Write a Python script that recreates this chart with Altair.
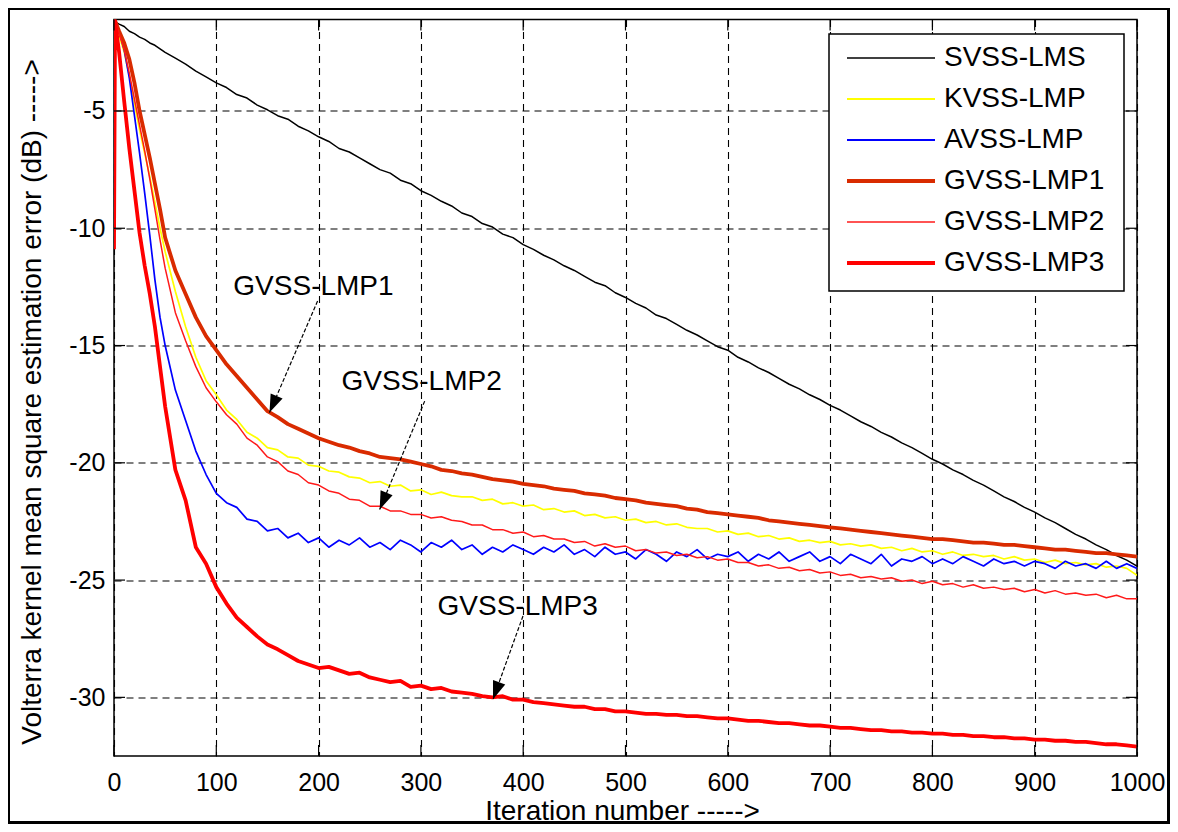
import math
import altair as alt
import pandas as pd

# ---------------- data ----------------
iterations = [0, 1, 5, 10, 15, 20, 25, 30, 35, 40, 45] + list(range(50, 1001, 10))

series_names = ["SVSS-LMS", "KVSS-LMP", "AVSS-LMP", "GVSS-LMP1", "GVSS-LMP2", "GVSS-LMP3"]
series_colors = ["#000000", "#FFFF00", "#0000FF", "#D92B00", "#FF1A1A", "#FF0000"]
series_widths = [1.5, 1.7, 1.7, 3.8, 1.5, 3.8]
legend_widths = [1.6, 2.0, 2.0, 4.0, 1.6, 4.0]

svss_lms = [-1.15, -1.2, -1.3, -1.4, -1.6, -1.7, -1.85, -1.95, -2.1, -2.2, -2.35,
            -2.5, -2.75, -3.0, -3.3, -3.55, -3.8, -4.0, -4.3, -4.45, -4.75,
            -4.95, -5.2, -5.35, -5.65, -5.85, -6.1, -6.3, -6.6, -6.75, -7.0,
            -7.25, -7.5, -7.65, -7.95, -8.1, -8.4, -8.6, -8.85, -9.05, -9.35,
            -9.5, -9.8, -9.95, -10.25, -10.4, -10.7, -10.9, -11.15, -11.35, -11.6,
            -11.8, -12.05, -12.3, -12.45, -12.75, -12.95, -13.2, -13.4, -13.7, -13.85,
            -14.1, -14.35, -14.55, -14.8, -15.05, -15.2, -15.5, -15.7, -15.95, -16.15,
            -16.4, -16.65, -16.85, -17.1, -17.3, -17.55, -17.75, -18.0, -18.25, -18.45,
            -18.7, -18.9, -19.15, -19.35, -19.6, -19.85, -20.05, -20.3, -20.5, -20.75,
            -20.95, -21.2, -21.45, -21.65, -21.9, -22.1, -22.35, -22.55, -22.8, -23.05,
            -23.25, -23.5, -23.7, -23.95, -24.15, -24.4]

kvss_lmp = [-1.1, -1.15, -1.8, -2.5, -3.5, -4.7, -5.8, -6.8, -7.8, -8.9, -10.0,
            -11.0, -12.7, -14.2, -15.5, -16.5, -17.1, -17.75, -18.15, -18.7, -18.95,
            -19.35, -19.45, -19.75, -19.8, -20.1, -20.15, -20.35, -20.4, -20.6, -20.65,
            -20.85, -20.8, -21.0, -20.95, -21.2, -21.15, -21.35, -21.25, -21.4, -21.45,
            -21.45, -21.6, -21.55, -21.75, -21.7, -21.85, -21.8, -22.0, -21.95, -22.1,
            -22.05, -22.25, -22.2, -22.35, -22.3, -22.45, -22.4, -22.55, -22.5, -22.65,
            -22.6, -22.75, -22.8, -22.8, -22.95, -22.9, -23.05, -23.0, -23.15, -23.1,
            -23.25, -23.2, -23.35, -23.3, -23.4, -23.35, -23.5, -23.45, -23.55, -23.5,
            -23.65, -23.6, -23.75, -23.65, -23.8, -23.75, -23.9, -23.8, -23.95, -23.9,
            -24.0, -23.95, -24.1, -24.0, -24.15, -24.1, -24.25, -24.15, -24.3, -24.25,
            -24.35, -24.3, -24.45, -24.4, -24.5, -24.8]

avss_lmp = [-1.1, -1.15, -1.6, -2.4, -3.6, -5.2, -6.8, -8.5, -10.3, -12.2, -13.8,
            -15.0, -16.9, -18.2, -19.5, -20.5, -21.3, -21.7, -21.9, -22.4, -22.5,
            -22.9, -22.8, -23.2, -23.0, -23.4, -23.2, -23.6, -23.3, -23.5, -23.2,
            -23.6, -23.4, -23.7, -23.3, -23.5, -23.8, -23.4, -23.6, -23.3, -23.7,
            -23.5, -23.9, -23.6, -23.8, -23.5, -23.7, -23.9, -23.6, -23.8, -23.5,
            -23.9, -23.7, -24.0, -23.6, -23.9, -23.8, -24.1, -23.7, -23.9, -24.2,
            -23.8, -24.0, -23.7, -24.1, -23.9, -24.0, -23.8, -24.2, -23.9, -24.1,
            -23.8, -24.2, -24.0, -23.8, -24.2, -24.0, -24.3, -23.9, -24.1, -24.3,
            -23.9, -24.4, -24.1, -24.2, -24.0, -24.3, -24.1, -24.3, -24.0, -24.2,
            -24.4, -24.1, -24.3, -24.2, -24.4, -24.2, -24.3, -24.5, -24.2, -24.4,
            -24.3, -24.5, -24.2, -24.5, -24.3, -24.5]

gvss_lmp1 = [-1.1, -1.15, -1.6, -2.1, -2.8, -3.8, -5.0, -6.0, -7.0, -8.1, -9.2,
             -10.4, -11.8, -12.8, -13.8, -14.6, -15.2, -15.8, -16.3, -16.8, -17.3,
             -17.8, -18.05, -18.35, -18.55, -18.75, -18.95, -19.1, -19.25, -19.35, -19.5,
             -19.6, -19.75, -19.8, -19.85, -19.95, -20.05, -20.15, -20.3, -20.35, -20.45,
             -20.5, -20.6, -20.7, -20.75, -20.8, -20.9, -20.95, -21.0, -21.1, -21.15,
             -21.2, -21.3, -21.35, -21.4, -21.5, -21.55, -21.6, -21.7, -21.75, -21.8,
             -21.85, -21.95, -22.0, -22.1, -22.15, -22.2, -22.25, -22.3, -22.35, -22.45,
             -22.5, -22.55, -22.6, -22.65, -22.7, -22.75, -22.8, -22.85, -22.9, -22.95,
             -23.0, -23.05, -23.1, -23.15, -23.2, -23.25, -23.25, -23.3, -23.35, -23.4,
             -23.4, -23.45, -23.5, -23.5, -23.55, -23.6, -23.65, -23.7, -23.7, -23.75,
             -23.8, -23.85, -23.85, -23.9, -23.95, -24.0]

gvss_lmp2 = [-1.1, -1.15, -1.7, -2.4, -3.4, -4.5, -5.6, -6.7, -7.9, -9.2, -10.5,
             -11.7, -13.6, -14.8, -15.9, -16.8, -17.4, -17.95, -18.35, -18.95, -19.25,
             -19.75, -19.95, -20.35, -20.5, -20.85, -20.95, -21.2, -21.3, -21.55, -21.6,
             -21.85, -21.85, -22.05, -22.05, -22.2, -22.2, -22.35, -22.3, -22.45, -22.5,
             -22.65, -22.65, -22.85, -22.85, -23.0, -22.95, -23.15, -23.1, -23.25, -23.25,
             -23.4, -23.35, -23.55, -23.45, -23.6, -23.55, -23.75, -23.7, -23.85, -23.8,
             -23.95, -23.9, -24.05, -24.0, -24.15, -24.1, -24.25, -24.25, -24.4, -24.35,
             -24.5, -24.45, -24.6, -24.55, -24.7, -24.65, -24.8, -24.75, -24.9, -24.85,
             -24.95, -24.9, -25.05, -25.0, -25.15, -25.05, -25.2, -25.15, -25.3, -25.2,
             -25.35, -25.3, -25.4, -25.35, -25.5, -25.4, -25.55, -25.45, -25.6, -25.55,
             -25.65, -25.6, -25.75, -25.65, -25.8, -25.8]

gvss_lmp3 = [-10.9, -1.15, -2.5, -4.6, -6.6, -8.4, -10.2, -11.6, -12.8, -14.2, -15.9,
             -17.6, -20.3, -21.6, -23.6, -24.3, -25.3, -26.0, -26.6, -27.0, -27.4,
             -27.75, -27.95, -28.2, -28.45, -28.6, -28.75, -28.7, -28.85, -29.0, -28.95,
             -29.15, -29.25, -29.35, -29.3, -29.55, -29.5, -29.65, -29.6, -29.75, -29.8,
             -29.85, -29.95, -30.0, -29.95, -30.1, -30.1, -30.2, -30.25, -30.3, -30.35,
             -30.4, -30.4, -30.5, -30.5, -30.6, -30.6, -30.65, -30.7, -30.7, -30.75,
             -30.75, -30.8, -30.8, -30.85, -30.9, -30.9, -30.95, -31.0, -31.0, -31.05,
             -31.1, -31.1, -31.15, -31.2, -31.2, -31.25, -31.3, -31.3, -31.35, -31.4,
             -31.4, -31.45, -31.45, -31.5, -31.5, -31.55, -31.55, -31.6, -31.6, -31.65,
             -31.65, -31.7, -31.7, -31.75, -31.75, -31.8, -31.8, -31.85, -31.85, -31.9,
             -31.9, -31.95, -32.0, -32.0, -32.05, -32.1]

x_ticks = [0, 100, 200, 300, 400, 500, 600, 700, 800, 900, 1000]
y_ticks = [-30, -25, -20, -15, -10, -5]

annot_labels = ["GVSS-LMP1", "GVSS-LMP2", "GVSS-LMP3"]
annot_text_x = [195, 300.7, 394.6]
annot_text_y = [-12.52, -16.57, -26.16]
annot_from_x = [199, 303.7, 399.8]
annot_from_y = [-13.1, -17.37, -26.53]
annot_to_x = [152, 259.7, 370.5]
annot_to_y = [-17.86, -21.99, -30.08]

# ---------------- layout ----------------
W, H = 1023, 736.5
X_DOMAIN = [0, 1000]
Y_DOMAIN = [-32.5, -1.1]
FONT = "Liberation Sans, Arial, sans-serif"

all_series = [svss_lms, kvss_lmp, avss_lmp, gvss_lmp1, gvss_lmp2, gvss_lmp3]
rows = []
for name, vals in zip(series_names, all_series):
    assert len(vals) == len(iterations), (name, len(vals), len(iterations))
    for it, v in zip(iterations, vals):
        rows.append({"iter": it, "mse": v, "series": name})
df = pd.DataFrame(rows)

XS = alt.Scale(domain=X_DOMAIN, nice=False, zero=False)
YS = alt.Scale(domain=Y_DOMAIN, nice=False, zero=False)

grid_kw = dict(grid=True, gridDash=[7, 5], gridColor="black", gridOpacity=1, gridWidth=1.1,
               domain=False, ticks=False, labelColor="black", labelFont=FONT,
               labelFontSize=25, titleFont=FONT, titleFontSize=28, titleFontWeight="normal",
               titleColor="black", labelOverlap=False, labelFlush=False,
               labelExpr="datum.value < 0 ? '-' + abs(datum.value) : '' + datum.value")

X_AXIS = alt.Axis(values=x_ticks, title="Iteration number ----->", labelPadding=14,
                  titleBaseline="alphabetic", titleY=63, titleX=508, **grid_kw)
Y_AXIS = alt.Axis(values=y_ticks,
                  title="Volterra kernel mean square estimation error (dB) ----->",
                  labelPadding=9, titleX=-82, titleY=382, titleAngle=270,
                  titleBaseline="middle", titleAlign="center", **grid_kw)

layers = []
for name, col, sw in zip(series_names, series_colors, series_widths):
    layers.append(
        alt.Chart(df).transform_filter(alt.datum.series == name)
        .mark_line(clip=True, strokeJoin="round", color=col, strokeWidth=sw)
        .encode(x=alt.X("iter:Q", scale=XS, axis=X_AXIS),
                y=alt.Y("mse:Q", scale=YS, axis=Y_AXIS),
                order="iter:Q")
    )

TL = 11
xt = pd.DataFrame({"v": x_ticks})
yt = pd.DataFrame({"v": y_ticks})
tick_mark = dict(color="black", strokeWidth=1.2)
layers += [
    alt.Chart(xt).mark_rule(**tick_mark).encode(x=alt.X("v:Q", scale=XS, axis=X_AXIS), y=alt.value(H), y2=alt.value(H - TL)),
    alt.Chart(xt).mark_rule(**tick_mark).encode(x=alt.X("v:Q", scale=XS, axis=X_AXIS), y=alt.value(0), y2=alt.value(TL)),
    alt.Chart(yt).mark_rule(**tick_mark).encode(y=alt.Y("v:Q", scale=YS, axis=Y_AXIS), x=alt.value(0), x2=alt.value(TL)),
    alt.Chart(yt).mark_rule(**tick_mark).encode(y=alt.Y("v:Q", scale=YS, axis=Y_AXIS), x=alt.value(W), x2=alt.value(W - TL)),
]

# annotations
sx = W / (X_DOMAIN[1] - X_DOMAIN[0])
sy = H / (Y_DOMAIN[1] - Y_DOMAIN[0])
angles = []
for fx, fy, tx, ty in zip(annot_from_x, annot_from_y, annot_to_x, annot_to_y):
    dxp = (tx - fx) * sx
    dyp = -(ty - fy) * sy
    angles.append(math.degrees(math.atan2(dxp, -dyp)) % 360)
ann = pd.DataFrame({"label": annot_labels, "tx": annot_text_x, "ty": annot_text_y,
                    "fx": annot_from_x, "fy": annot_from_y, "ex": annot_to_x, "ey": annot_to_y,
                    "ang": angles})
layers += [
    alt.Chart(ann).mark_rule(color="black", strokeWidth=1.2, strokeDash=[4, 2]).encode(
        x=alt.X("fx:Q", scale=XS, axis=X_AXIS), y=alt.Y("fy:Q", scale=YS, axis=Y_AXIS),
        x2="ex:Q", y2="ey:Q"),
    alt.Chart(ann).mark_point(shape="M0,0 L-0.36,1 L0.36,1 Z", filled=True, color="black",
                              opacity=1, size=1300).encode(
        x=alt.X("ex:Q", scale=XS, axis=X_AXIS), y=alt.Y("ey:Q", scale=YS, axis=Y_AXIS),
        angle=alt.Angle("ang:Q", scale=None)),
    alt.Chart(ann).mark_text(font=FONT, fontSize=28, color="black", align="center", baseline="middle").encode(
        x=alt.X("tx:Q", scale=XS, axis=X_AXIS), y=alt.Y("ty:Q", scale=YS, axis=Y_AXIS), text="label:N"),
]

# legend box
one = pd.DataFrame({"k": [0]})
leg = pd.DataFrame({"series": series_names, "row": list(range(len(series_names)))})
layers.append(
    alt.Chart(one).mark_rect(fill="white", stroke="black", strokeWidth=1.5).encode(
        x=alt.value(715), x2=alt.value(1010), y=alt.value(14.5), y2=alt.value(271.5))
)
for i, (col, lw) in enumerate(zip(series_colors, legend_widths)):
    layers.append(
        alt.Chart(one).mark_rule(color=col, strokeWidth=lw).encode(
            x=alt.value(733), x2=alt.value(821), y=alt.value(38.5 + 41 * i))
    )
layers += [
    alt.Chart(leg).transform_calculate(ly="38.5 + 41*datum.row").mark_text(
        font=FONT, fontSize=28, color="black", align="left", baseline="middle").encode(
        x=alt.value(830), y=alt.Y("ly:Q", scale=None), text="series:N"),
    # outer figure frame
    alt.Chart(one).mark_rect(fill="transparent", stroke="black", strokeWidth=3).encode(
        x=alt.value(-105.5), x2=alt.value(1054.5), y=alt.value(-11), y2=alt.value(803)),
]

chart = alt.layer(*layers).properties(
    width=W, height=H,
    padding={"left": 106, "top": 11.5, "right": 33, "bottom": 68},
    autosize=alt.AutoSizeParams(type="none"),
    background="white",
).configure_view(stroke="black", strokeWidth=1.5)

chart.save("out.html", embed_options={"renderer": "svg", "actions": False})
